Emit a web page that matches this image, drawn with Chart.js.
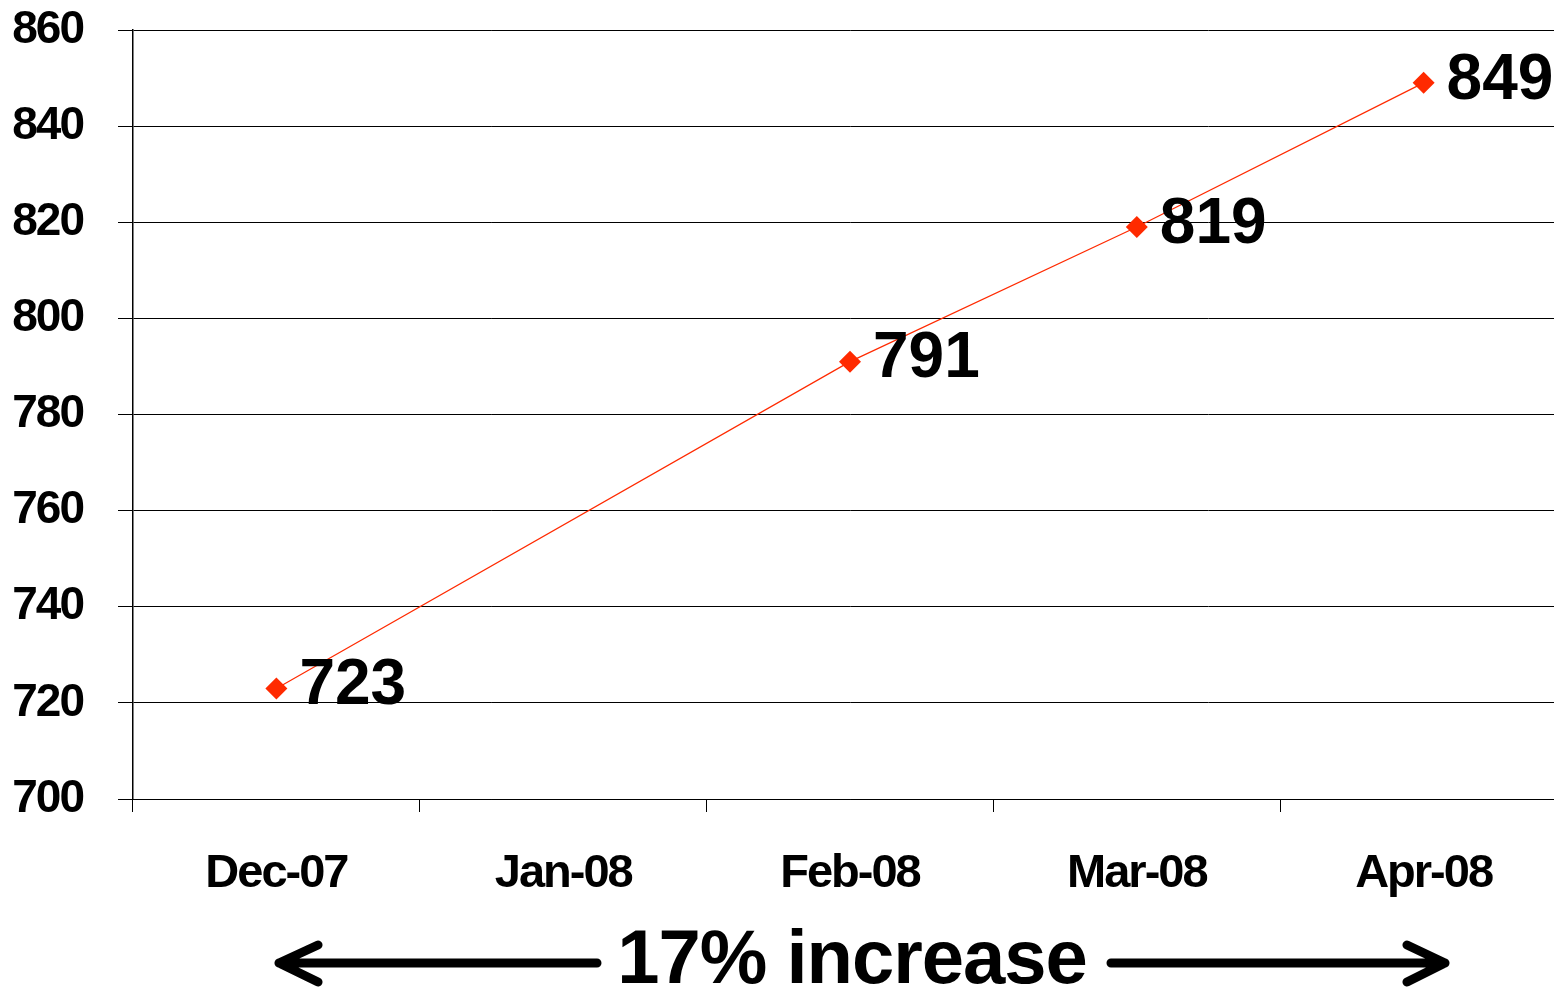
<!DOCTYPE html>
<html>
<head>
<meta charset="utf-8">
<script src="https://cdn.jsdelivr.net/npm/chart.js@4"></script>
<style>
  html, body { margin: 0; padding: 0; background: #fff; overflow: hidden; }
  #wrap { position: relative; width: 1578px; height: 987px; }
</style>
</head>
<body>
<div id="wrap"><canvas id="c"></canvas></div>
<script>
const categories = ['Dec-07', 'Jan-08', 'Feb-08', 'Mar-08', 'Apr-08'];
const values = [723, null, 791, 819, 849];
const yTicks = [700, 720, 740, 760, 780, 800, 820, 840, 860];
const annotationText = '17% increase';

const FONT = "'Liberation Sans', Arial, sans-serif";

const spacingPlugin = {
  id: 'spacing',
  beforeUpdate(chart) { chart.ctx.letterSpacing = '-2px'; },
  beforeDraw(chart) { chart.ctx.letterSpacing = '-2px'; }
};

const labelPlugin = {
  id: 'labels',
  afterDatasetsDraw(chart) {
    const ctx = chart.ctx;
    const meta = chart.getDatasetMeta(0);
    ctx.save();
    ctx.letterSpacing = '0px';
    ctx.font = 'bold 64px ' + FONT;
    ctx.fillStyle = '#000';
    ctx.textAlign = 'left';
    ctx.textBaseline = 'middle';
    meta.data.forEach((pt, i) => {
      const v = values[i];
      if (v === null || v === undefined) return;
      ctx.fillText(String(v), pt.x + 23, pt.y - 2);
    });
    ctx.restore();
  },
  afterDraw(chart) {
    const ctx = chart.ctx;
    ctx.save();
    ctx.letterSpacing = '-1px';
    ctx.font = 'bold 76px ' + FONT;
    ctx.fillStyle = '#000';
    ctx.textAlign = 'center';
    ctx.textBaseline = 'alphabetic';
    ctx.fillText(annotationText, 852, 983);
    ctx.strokeStyle = '#000';
    ctx.lineWidth = 9;
    ctx.lineCap = 'round';
    ctx.lineJoin = 'round';
    // left arrow
    ctx.beginPath();
    ctx.moveTo(597, 963); ctx.lineTo(279, 963);
    ctx.moveTo(318, 945); ctx.lineTo(279, 963); ctx.lineTo(318, 982);
    ctx.stroke();
    // right arrow
    ctx.beginPath();
    ctx.moveTo(1111, 963); ctx.lineTo(1445, 963);
    ctx.moveTo(1407, 945); ctx.lineTo(1445, 963); ctx.lineTo(1407, 982);
    ctx.stroke();
    ctx.restore();
  }
};

new Chart(document.getElementById('c'), {
  type: 'line',
  data: {
    labels: categories,
    datasets: [{
      data: values,
      borderColor: '#ff2a00',
      backgroundColor: '#ff2a00',
      borderWidth: 1.2,
      pointStyle: 'rectRot',
      pointRadius: 11,
      pointHoverRadius: 11,
      pointBorderWidth: 0,
      spanGaps: true,
      tension: 0
    }]
  },
  options: {
    responsive: true,
    maintainAspectRatio: false,
    animation: false,
    events: [],
    layout: { padding: { top: 30, right: 0, left: 0, bottom: 0 } },
    plugins: { legend: { display: false }, tooltip: { enabled: false } },
    scales: {
      x: {
        offset: true,
        grid: { display: true, drawOnChartArea: false, drawTicks: true, tickLength: 13, color: '#000', lineWidth: 1, offset: true },
        border: { display: true, color: '#000', width: 1 },
        ticks: { color: '#000', font: { family: FONT, size: 47, weight: 'bold' }, padding: 34, maxRotation: 0 },
        afterFit(scale) { scale.height = 188; }
      },
      y: {
        min: 700, max: 860,
        afterBuildTicks(scale) { scale.ticks = yTicks.map(v => ({ value: v })); },
        grid: { display: true, drawOnChartArea: true, drawTicks: true, tickLength: 15, color: '#000', lineWidth: 1 },
        border: { display: true, color: '#000', width: 1.5 },
        ticks: { color: '#000', font: { family: FONT, size: 46, weight: 'bold', lineHeight: 1 }, padding: 35 },
        afterFit(scale) { scale.width = 133; scale.paddingTop = 0; scale.paddingBottom = 0; }
      }
    }
  },
  plugins: [spacingPlugin, labelPlugin]
});
</script>
</body>
</html>
